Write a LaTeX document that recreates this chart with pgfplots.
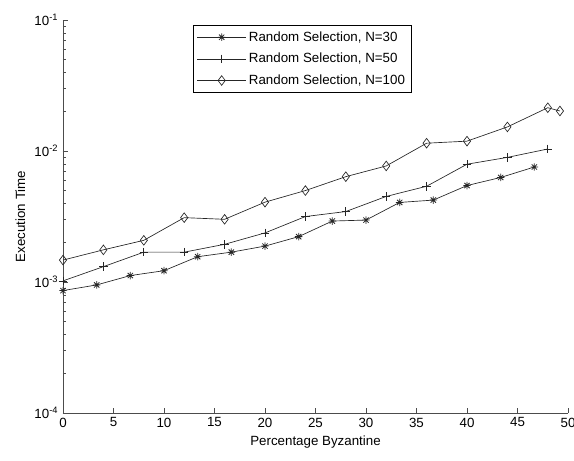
\documentclass[border=0pt]{standalone}
\usepackage{fontspec}
\setmainfont{Liberation Sans}
\usepackage{pgfplots}
\pgfplotsset{compat=1.18}

% MATLAB-like '*' marker: plus and cross together
\pgfdeclareplotmark{mstar}{%
  \pgfpathmoveto{\pgfqpoint{-\pgfplotmarksize}{0pt}}\pgfpathlineto{\pgfqpoint{\pgfplotmarksize}{0pt}}%
  \pgfpathmoveto{\pgfqpoint{0pt}{-\pgfplotmarksize}}\pgfpathlineto{\pgfqpoint{0pt}{\pgfplotmarksize}}%
  \pgfpathmoveto{\pgfqpoint{-0.707\pgfplotmarksize}{-0.707\pgfplotmarksize}}\pgfpathlineto{\pgfqpoint{0.707\pgfplotmarksize}{0.707\pgfplotmarksize}}%
  \pgfpathmoveto{\pgfqpoint{-0.707\pgfplotmarksize}{0.707\pgfplotmarksize}}\pgfpathlineto{\pgfqpoint{0.707\pgfplotmarksize}{-0.707\pgfplotmarksize}}%
  \pgfusepathqstroke}

\begin{document}
\begin{tikzpicture}
\path[use as bounding box] (-47.25pt,-35.25pt) rectangle (383.25pt,309.75pt);
\begin{axis}[
  scale only axis,
  width=378.75pt, height=294.75pt,
  ymode=log,
  xmin=0, xmax=50, ymin=1e-4, ymax=1e-1,
  axis lines=left,
  axis line style={-, draw=black!70},
  tick align=inside,
  tick style={draw=black!70},
  major tick length=4pt, minor tick length=2.2pt,
  xtick={0,5,...,50},
  ytick={1e-4,1e-3,1e-2,1e-1},
  yticklabels={10\textsuperscript{-4},10\textsuperscript{-3},10\textsuperscript{-2},10\textsuperscript{-1}},
  /pgf/number format/assume math mode=true,
  tick label style={font=\fontsize{10}{12}\selectfont},
  label style={font=\fontsize{10}{12}\selectfont},
  xlabel={Percentage Byzantine},
  ylabel={Execution Time},
  legend cell align=left,
  legend style={at={(0.257,0.987)}, anchor=north west, draw=black, fill=white,
    font=\fontsize{10}{12}\selectfont, row sep=3.5pt, inner xsep=3pt, inner ysep=2.5pt},
  legend image code/.code={\draw[mark repeat=2,mark phase=2,#1] plot coordinates {(0cm,0cm) (0.64cm,0cm) (1.28cm,0cm)};},
  every axis plot/.append style={draw=black!85, line width=0.5pt},
]
\addplot[mark=mstar, mark size=2.8pt, mark options={solid, line width=0.6pt}] coordinates {
(0,8.6e-4) (3.333,9.5e-4) (6.667,1.12e-3) (10,1.22e-3) (13.333,1.56e-3)
(16.667,1.69e-3) (20,1.88e-3) (23.333,2.22e-3) (26.667,2.92e-3) (30,2.97e-3)
(33.333,4.05e-3) (36.667,4.22e-3) (40,5.45e-3) (43.333,6.28e-3) (46.667,7.55e-3)};
\addplot[mark=+, mark size=3.2pt, mark options={solid}] coordinates {
(0,1.02e-3) (4,1.31e-3) (8,1.69e-3) (12,1.69e-3) (16,1.94e-3) (20,2.37e-3)
(24,3.16e-3) (28,3.45e-3) (32,4.50e-3) (36,5.38e-3) (40,7.93e-3) (44,8.94e-3) (48,1.036e-2)};
\addplot[mark=diamond, mark size=3.6pt, mark options={solid, fill=white}] coordinates {
(0,1.47e-3) (4,1.76e-3) (8,2.08e-3) (12,3.10e-3) (16,3.01e-3) (20,4.07e-3)
(24,4.99e-3) (28,6.37e-3) (32,7.69e-3) (36,1.147e-2) (40,1.189e-2) (44,1.527e-2)
(48,2.14e-2) (49.2,2.02e-2)};
\legend{{Random Selection, N=30},{Random Selection, N=50},{Random Selection, N=100}}
\end{axis}
\end{tikzpicture}
\end{document}
